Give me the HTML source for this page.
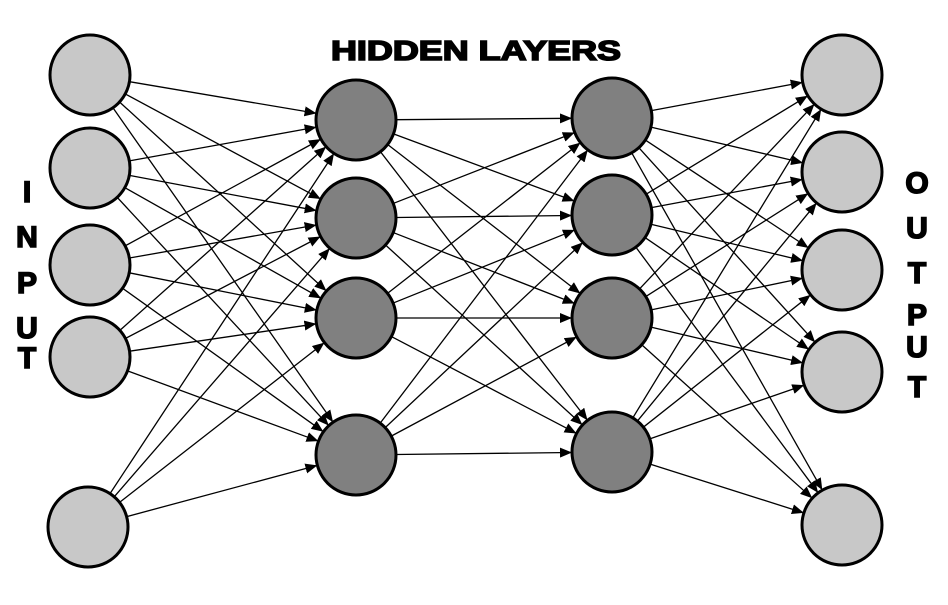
<!DOCTYPE html>
<html><head><meta charset="utf-8"><style>
html,body{margin:0;padding:0;background:#fff;}
svg{display:block;}
text{font-family:"Liberation Sans",sans-serif;font-weight:bold;fill:#000;stroke:#000;stroke-width:1.6;}
</style></head><body>
<svg id="s" width="948" height="605" viewBox="0 0 948 605" xmlns="http://www.w3.org/2000/svg">
<defs><marker id="a" markerWidth="12" markerHeight="10" refX="11" refY="5" orient="auto" markerUnits="userSpaceOnUse"><path d="M0,0 L12,5 L0,10 z" fill="#000"/></marker></defs>
<g id="e" stroke="#000" stroke-width="1.3"></g>
<g id="n"></g>
<text x="331" y="60" font-size="28" textLength="290" lengthAdjust="spacingAndGlyphs">HIDDEN LAYERS</text>
<g font-size="30" text-anchor="middle">
<text x="27" y="202">I</text><text x="27" y="247">N</text><text x="27" y="293">P</text><text x="27" y="338">U</text><text x="27" y="368">T</text>
<text x="917" y="193">O</text><text x="917" y="238">U</text><text x="917" y="283">T</text><text x="917" y="325">P</text><text x="917" y="357">U</text><text x="917" y="397">T</text>
</g>
</svg>
<script>
var L=[[[90,75],[90,168],[90,265],[90,357],[88,527]],
[[356,120],[356,218],[356,318],[356,455]],
[[612,118],[612,215],[612,318],[612,452]],
[[842,75],[842,172],[842,270],[842,372],[842,525]]];
var R=40,ns="http://www.w3.org/2000/svg",e=document.getElementById('e'),n=document.getElementById('n');
for(var k=0;k<3;k++)for(var i=0;i<L[k].length;i++)for(var j=0;j<L[k+1].length;j++){
var a=L[k][i],b=L[k+1][j],dx=b[0]-a[0],dy=b[1]-a[1],d=Math.hypot(dx,dy),ux=dx/d,uy=dy/d;
var l=document.createElementNS(ns,'line');
l.setAttribute('x1',a[0]+ux*R);l.setAttribute('y1',a[1]+uy*R);
l.setAttribute('x2',b[0]-ux*(R+1));l.setAttribute('y2',b[1]-uy*(R+1));
l.setAttribute('marker-end','url(#a)');e.appendChild(l);}
for(var k=0;k<4;k++)for(var i=0;i<L[k].length;i++){
var c=document.createElementNS(ns,'circle');
c.setAttribute('cx',L[k][i][0]);c.setAttribute('cy',L[k][i][1]);c.setAttribute('r',R);
c.setAttribute('fill',(k==1||k==2)?'#808080':'#c8c8c8');c.setAttribute('stroke','#000');c.setAttribute('stroke-width','3');
n.appendChild(c);}
</script>
</body></html>
